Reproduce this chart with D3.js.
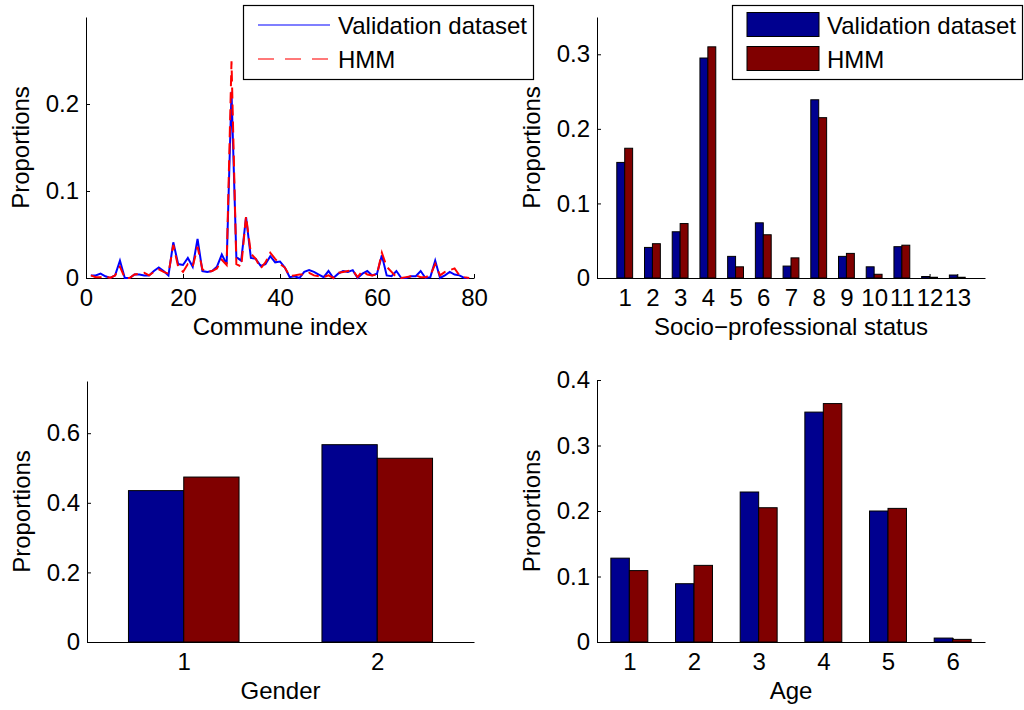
<!DOCTYPE html>
<html>
<head>
<meta charset="utf-8">
<script src="https://cdn.jsdelivr.net/npm/d3@7/dist/d3.min.js"></script>
<style>
  html, body { margin: 0; padding: 0; background: #fff; }
  svg { display: block; }
  text { font-family: "Liberation Sans", Arial, Helvetica, sans-serif; fill: #000; }
</style>
</head>
<body>
<svg id="chart" width="1024" height="710"></svg>
<script>
// ---------- DATA ----------
const seriesNames = ["Validation dataset", "HMM"];

// Commune index panel (index = position + 1)
const communeValidation = [0.003,0.003,0.005,0.002,0,0.003,0.020,0,0,0.004,
  0.004,0.003,0.003,0.008,0.012,0.008,0.003,0.041,0.016,0.015,
  0.023,0.013,0.045,0.008,0.007,0.008,0.013,0.027,0.016,0.214,
  0.024,0.020,0.070,0.023,0.022,0.014,0.016,0.025,0.018,0.019,
  0.012,0.001,0.002,0,0.007,0.009,0.007,0.004,0.001,0.008,
  0,0.005,0.008,0.007,0.009,0,0.005,0.008,0.003,0.005,
  0.026,0.003,0.002,0.008,0,0,0.002,0.002,0.008,0,
  0.001,0.020,0,0.003,0.007,0.004,0.003,0,0];
const communeHMM = [0.003,0.001,0.001,0.002,0,0.003,0.013,0,0,0.004,
  0.005,0.006,0.003,0.007,0.010,0.007,0.005,0.038,0.013,0.007,
  0.016,0.013,0.036,0.010,0.007,0.008,0.011,0.021,0.015,0.249,
  0.016,0.013,0.071,0.028,0.022,0.011,0.018,0.029,0.022,0.016,
  0.012,0.002,0.003,0.004,0.004,0.006,0.003,0.002,0.001,0.003,
  0,0.006,0.007,0.008,0.009,0.001,0.008,0.004,0.003,0.004,
  0.029,0.013,0.007,0.001,0,0.001,0.002,0.003,0.001,0.001,
  0.003,0.016,0.003,0.007,0.009,0.011,0.003,0.001,0];
const communeXTicks = [0, 20, 40, 60, 80];
const communeYTicks = [0, 0.1, 0.2];

// Socio-professional status panel
const socioCategories = [1,2,3,4,5,6,7,8,9,10,11,12,13];
const socioValidation = [0.155,0.041,0.062,0.295,0.029,0.074,0.016,0.239,0.029,0.015,0.042,0.002,0.004];
const socioHMM        = [0.174,0.046,0.073,0.310,0.015,0.058,0.027,0.215,0.033,0.005,0.044,0.001,0.001];
const socioYTicks = [0, 0.1, 0.2, 0.3];

// Gender panel
const genderCategories = [1, 2];
const genderValidation = [0.435, 0.567];
const genderHMM        = [0.474, 0.528];
const genderYTicks = [0, 0.2, 0.4, 0.6];

// Age panel
const ageCategories = [1,2,3,4,5,6];
const ageValidation = [0.128,0.089,0.229,0.351,0.200,0.006];
const ageHMM        = [0.109,0.117,0.205,0.364,0.204,0.004];
const ageYTicks = [0, 0.1, 0.2, 0.3, 0.4];

// ---------- STYLE ----------
const FONT = 24;
const BAR_BLUE = "#00008f";
const BAR_RED = "#800000";
const LINE_BLUE = "#0000ff";
const LINE_RED = "#ff0000";
const TICK = 4;
const fmt = d3.format("~g");

const svg = d3.select("#chart");
svg.append("rect").attr("width", 1024).attr("height", 710).attr("fill", "#fff");

function axes(g, x, y, xTicks, yTicks, xLabel, box) {
  const ax = g.append("g").attr("transform", `translate(0,${box.b})`)
    .call(d3.axisBottom(x).tickValues(xTicks).tickFormat(fmt)
      .tickSizeInner(-TICK).tickSizeOuter(0).tickPadding(11));
  const ay = g.append("g").attr("transform", `translate(${box.l},0)`)
    .call(d3.axisLeft(y).tickValues(yTicks).tickFormat(fmt)
      .tickSizeInner(-TICK).tickSizeOuter(0).tickPadding(7));
  [ax, ay].forEach(a => {
    a.selectAll("path.domain").attr("stroke", "#000").attr("stroke-width", 1);
    a.selectAll(".tick line").attr("stroke", "#000").attr("stroke-width", 1);
    a.selectAll("text").style("font-size", FONT + "px")
      .style("font-family", '"Liberation Sans", Arial, Helvetica, sans-serif').attr("fill", "#000");
  });
  g.append("text").attr("x", (box.l + box.r) / 2).attr("y", box.b + 57)
    .attr("text-anchor", "middle").style("font-size", FONT + "px").text(xLabel);
  g.append("text")
    .attr("transform", `translate(${box.l - 57},${(box.t + box.b) / 2}) rotate(-90)`)
    .attr("text-anchor", "middle").style("font-size", FONT + "px").text("Proportions");
}

function barPanel(box, cats, v1, v2, xDomain, yDomain, yTicks, xLabel, legend) {
  const g = svg.append("g");
  const x = d3.scaleLinear().domain(xDomain).range([box.l, box.r]);
  const y = d3.scaleLinear().domain(yDomain).range([box.b, box.t]);
  axes(g, x, y, cats, yTicks, xLabel, box);
  const bw = 2 / 7; // width of one bar in category units
  [[v1, BAR_BLUE, -1], [v2, BAR_RED, 0]].forEach(([vals, col, off]) => {
    g.append("g").selectAll("rect").data(cats).join("rect")
      .attr("x", (c) => x(c + off * bw))
      .attr("width", x(bw) - x(0))
      .attr("y", (c, i) => y(vals[i]))
      .attr("height", (c, i) => y(0) - y(vals[i]))
      .attr("fill", col).attr("stroke", "#000").attr("stroke-width", 1);
  });
  g.append("line").attr("x1", box.l).attr("x2", box.r).attr("y1", box.b + 0.5).attr("y2", box.b + 0.5)
    .attr("stroke", "#000").attr("stroke-width", 1);
  if (legend) {
    const lg = g.append("g");
    lg.append("rect").attr("x", 732.5).attr("y", 5.5).attr("width", 290).attr("height", 74)
      .attr("fill", "#fff").attr("stroke", "#000").attr("stroke-width", 1.2);
    [[BAR_BLUE, 12.5, 34], [BAR_RED, 46.5, 68]].forEach(([col, ry, ty], i) => {
      lg.append("rect").attr("x", 747).attr("y", ry).attr("width", 72).attr("height", 24)
        .attr("fill", col).attr("stroke", "#000").attr("stroke-width", 1);
      lg.append("text").attr("x", 827).attr("y", ty).style("font-size", FONT + "px").text(seriesNames[i]);
    });
  }
}

// ---------- Panel 1: commune index (line chart) ----------
(function () {
  const box = { l: 86, r: 474, t: 17, b: 278 };
  const g = svg.append("g");
  const x = d3.scaleLinear().domain([0, 80]).range([box.l, box.r]);
  const y = d3.scaleLinear().domain([0, 0.3]).range([box.b, box.t]);
  axes(g, x, y, communeXTicks, communeYTicks, "Commune index", box);
  const line = d3.line().x((d, i) => x(i + 1)).y(d => y(d));
  g.append("path").datum(communeValidation).attr("d", line)
    .attr("fill", "none").attr("stroke", LINE_BLUE).attr("stroke-width", 2);
  g.append("path").datum(communeHMM).attr("d", line)
    .attr("fill", "none").attr("stroke", LINE_RED).attr("stroke-width", 2)
    .attr("stroke-dasharray", "11,6");
  const lg = g.append("g");
  lg.append("rect").attr("x", 243.5).attr("y", 5.5).attr("width", 290).attr("height", 74)
    .attr("fill", "#fff").attr("stroke", "#000").attr("stroke-width", 1.2);
  lg.append("line").attr("x1", 258).attr("x2", 330).attr("y1", 25).attr("y2", 25)
    .attr("stroke", LINE_BLUE).attr("stroke-width", 1.2);
  lg.append("line").attr("x1", 258).attr("x2", 330).attr("y1", 59).attr("y2", 59)
    .attr("stroke", "#ff4d4d").attr("stroke-width", 1.6).attr("stroke-dasharray", "16,11");
  lg.append("text").attr("x", 338).attr("y", 34).style("font-size", FONT + "px").text(seriesNames[0]);
  lg.append("text").attr("x", 338).attr("y", 68).style("font-size", FONT + "px").text(seriesNames[1]);
})();

// ---------- Panel 2: socio-professional status ----------
barPanel({ l: 597, r: 985, t: 17, b: 278 }, socioCategories, socioValidation, socioHMM,
  [0, 14], [0, 0.35], socioYTicks, "Socio\u2212professional status", true);

// ---------- Panel 3: gender ----------
barPanel({ l: 87, r: 474, t: 381, b: 642 }, genderCategories, genderValidation, genderHMM,
  [0.5, 2.5], [0, 0.75], genderYTicks, "Gender", false);

// ---------- Panel 4: age ----------
barPanel({ l: 597, r: 985, t: 380, b: 642 }, ageCategories, ageValidation, ageHMM,
  [0.5, 6.5], [0, 0.4], ageYTicks, "Age", false);
</script>
</body>
</html>
